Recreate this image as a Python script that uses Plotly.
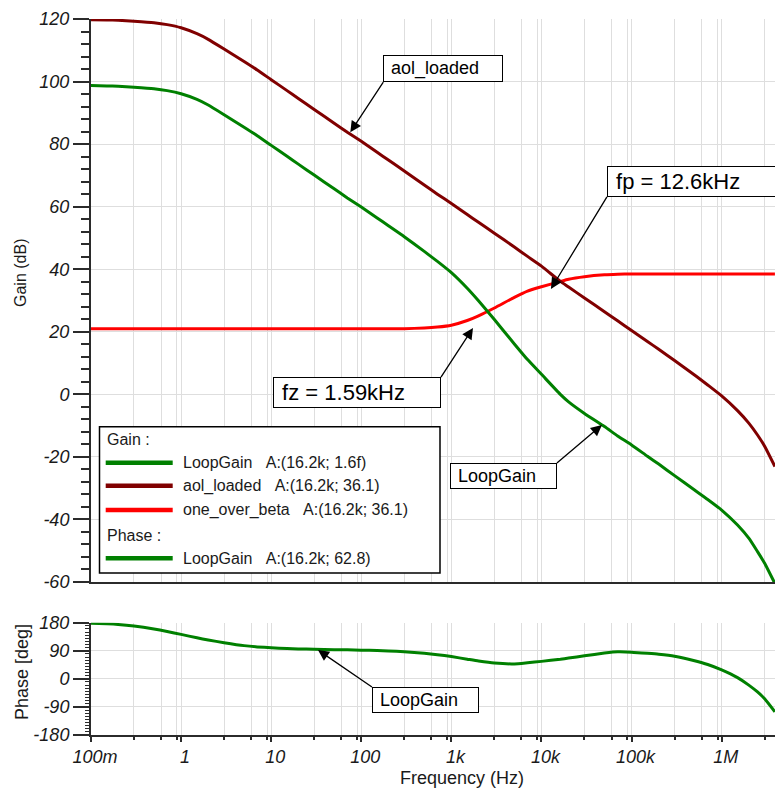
import plotly.graph_objects as go

# ---- data -------------------------------------------------------------
freq_hz = [0.1, 0.15, 0.2, 0.3, 0.5, 0.7, 1, 1.5, 2, 3, 5, 7, 10, 15, 20, 30,
           50, 70, 100, 150, 200, 300, 500, 700, 1000, 1500, 2000, 3000, 5000,
           7000, 10000, 16200, 20000, 30000, 50000, 70000, 100000, 150000,
           200000, 300000, 500000, 700000, 1000000, 1500000, 2000000,
           2500000, 3000000, 3900000]

aol_loaded_db = [119.8, 119.7, 119.6, 119.3, 118.8, 118.2, 117.2, 115.3, 113.5,
                 110.4, 106.4, 103.7, 100.6, 97.1, 94.6, 91.1, 86.7, 83.8, 80.9,
                 77.4, 74.9, 71.4, 66.9, 64.0, 61.0, 57.5, 55.0, 51.5, 47.1,
                 44.1, 41.0, 36.1, 34.3, 30.8, 26.4, 23.5, 20.4, 16.9, 14.4,
                 10.8, 6.2, 3.0, -0.5, -5.2, -9.2, -13.0, -16.6, -23.1]

one_over_beta_db = [21.0, 21.0, 21.0, 21.0, 21.0, 21.0, 21.0, 21.0, 21.0, 21.0,
                    21.0, 21.0, 21.0, 21.0, 21.0, 21.0, 21.0, 21.0, 21.0, 21.0,
                    21.0, 21.0, 21.2, 21.5, 22.1, 23.6, 25.1, 27.6, 31.0, 33.0,
                    34.4, 36.1, 36.8, 37.6, 38.2, 38.4, 38.5, 38.5, 38.5, 38.5,
                    38.5, 38.5, 38.5, 38.5, 38.5, 38.5, 38.5, 38.5]

loop_gain_db = [98.7, 98.6, 98.5, 98.2, 97.7, 97.1, 96.1, 94.3, 92.5, 89.4,
                85.4, 82.7, 79.6, 76.1, 73.6, 70.1, 65.7, 62.8, 59.9, 56.4,
                53.9, 50.4, 45.7, 42.5, 38.9, 33.9, 29.9, 23.9, 16.1, 11.1,
                6.4, 0.0, -2.4, -6.1, -10.3, -13.3, -16.2, -19.8, -22.3, -26.0,
                -30.6, -33.6, -37.0, -41.8, -46.0, -50.3, -54.0, -60.5]

loop_gain_phase_deg = [178, 176.5, 174.5, 169.5, 160, 152, 142.5, 131.5, 124.5,
                       116, 106.5, 102.5, 99.5, 97, 96, 95, 93.5, 93, 92, 91,
                       89.5, 87, 82, 77.5, 71.5, 63, 57, 50.5, 48, 51.5, 56,
                       62.8, 66.5, 74, 82.5, 86.5, 85.5, 82, 79, 72.5, 58, 46,
                       28.8, 4, -20, -42, -64, -106]

freq_ticks = [0.1, 1, 10, 100, 1e3, 1e4, 1e5, 1e6]
freq_labels = ["100m", "1", "10", "100", "1k", "10k", "100k", "1M"]
gain_ticks = [-60, -40, -20, 0, 20, 40, 60, 80, 100, 120]
gain_labels = ["-60", "-40", "-20", "0", "20", "40", "60", "80", "100", "120"]
phase_ticks = [-180, -90, 0, 90, 180]
phase_labels = ["-180", "-90", "0", "90", "180"]

legend_rows = [
    ("LoopGain\u00a0\u00a0\u00a0A:(16.2k; 1.6f)", "#008000"),
    ("aol_loaded\u00a0\u00a0\u00a0A:(16.2k; 36.1)", "#800000"),
    ("one_over_beta\u00a0\u00a0\u00a0A:(16.2k; 36.1)", "#ff0000"),
    ("LoopGain\u00a0\u00a0\u00a0A:(16.2k; 62.8)", "#008000"),
]

# ---- geometry helpers (pixel -> paper) --------------------------------
W, H = 775, 789
ML, MR, MT, MB = 91, 0, 19, 54
PW, PH = W - ML - MR, H - MT - MB


def px_x(px):
    return (px - ML) / PW


def px_y(py):
    return (H - MB - py) / PH


def italic(labels):
    return ["<i>%s</i>" % s for s in labels]


FONT = "Liberation Sans, Arial, sans-serif"
AX = "#2b2b2b"
GRID = "#dedede"

minor_freqs = [m * 10 ** d for d in range(-1, 7) for m in (3, 6, 9)]

fig = go.Figure()

line_style = dict(width=3, shape="spline", smoothing=0.5)
fig.add_trace(go.Scatter(x=freq_hz, y=one_over_beta_db, mode="lines",
                         line=dict(color="#ff0000", **line_style),
                         xaxis="x", yaxis="y", showlegend=False, name="one_over_beta"))
fig.add_trace(go.Scatter(x=freq_hz, y=aol_loaded_db, mode="lines",
                         line=dict(color="#800000", **line_style),
                         xaxis="x", yaxis="y", showlegend=False, name="aol_loaded"))
fig.add_trace(go.Scatter(x=freq_hz, y=loop_gain_db, mode="lines",
                         line=dict(color="#008000", **line_style),
                         xaxis="x", yaxis="y", showlegend=False, name="LoopGain"))
fig.add_trace(go.Scatter(x=freq_hz, y=loop_gain_phase_deg, mode="lines",
                         line=dict(color="#008000", **line_style),
                         xaxis="x2", yaxis="y2", showlegend=False, name="LoopGain phase"))

xrange_log = [-1, 6.592]
tickfont = dict(family=FONT, size=18, color="#1a1a1a")

top_dom = [px_y(582), 1]
bot_dom = [0, px_y(622.7)]

fig.update_layout(
    width=W, height=H,
    margin=dict(l=ML, r=MR, t=MT, b=MB),
    paper_bgcolor="white", plot_bgcolor="white",
    font=dict(family=FONT, color="#1a1a1a"),
    xaxis=dict(type="log", range=xrange_log, domain=[0, 1], anchor="y",
               tickmode="array", tickvals=freq_ticks, showticklabels=False, ticks="",
               showgrid=True, gridcolor=GRID, gridwidth=1,
               minor=dict(tickmode="array", tickvals=minor_freqs, showgrid=True,
                          gridcolor=GRID, gridwidth=1, ticks=""),
               showline=True, linecolor=AX, linewidth=2, zeroline=False),
    yaxis=dict(range=[-60, 120], domain=top_dom, anchor="x",
               tickmode="array", tickvals=gain_ticks, ticktext=italic(gain_labels),
               ticks="outside", ticklen=16, tickwidth=1.5, tickcolor=AX,
               tickfont=tickfont,
               minor=dict(dtick=4, tick0=0, ticks="outside", ticklen=8,
                          tickwidth=1.5, tickcolor=AX, showgrid=False),
               showgrid=True, gridcolor=GRID, gridwidth=1,
               showline=True, linecolor=AX, linewidth=2, zeroline=False),
    xaxis2=dict(type="log", range=xrange_log, domain=[0, 1], anchor="y2",
                tickmode="array", tickvals=freq_ticks, ticktext=italic(freq_labels),
                ticks="outside", ticklen=5, tickwidth=1.5, tickcolor=AX,
                tickfont=tickfont, ticklabelshift=4, ticklabelstandoff=-1,
                showgrid=True, gridcolor=GRID, gridwidth=1,
                minor=dict(tickmode="array", tickvals=minor_freqs, showgrid=True,
                           gridcolor=GRID, gridwidth=1, ticks="outside", ticklen=3,
                           tickcolor=AX),
                showline=True, linecolor=AX, linewidth=2, zeroline=False),
    yaxis2=dict(range=[-180, 180], domain=bot_dom, anchor="x2",
                tickmode="array", tickvals=phase_ticks, ticktext=italic(phase_labels),
                ticks="outside", ticklen=16, tickwidth=1.5, tickcolor=AX,
                tickfont=tickfont,
                minor=dict(dtick=10, tick0=0, ticks="outside", ticklen=4,
                           tickwidth=1, tickcolor=AX, showgrid=False),
                showgrid=True, gridcolor=GRID, gridwidth=1,
                showline=True, linecolor=AX, linewidth=2, zeroline=False),
)

annotations = []
shapes = []


def paper_text(text, px, py, size, angle=0, xanchor="center"):
    return dict(xref="paper", yref="paper", x=px_x(px), y=px_y(py),
                xanchor=xanchor, yanchor="middle", text=text, showarrow=False,
                textangle=angle, font=dict(family=FONT, size=size, color="#1a1a1a"))


# axis titles
annotations.append(paper_text("Frequency (Hz)", 462, 778, 18))
annotations.append(paper_text("Gain (dB)", 20, 273, 16, angle=-90))
annotations.append(paper_text("Phase [deg]", 22, 672, 18, angle=-90))


# call-out boxes with arrows (x in log10 units on log axes)
def callout(text, x, y, ax, ay, xanchor, yanchor, size, width, xref="x", yref="y"):
    return dict(xref=xref, yref=yref, x=x, y=y, ax=ax, ay=ay,
                text="\u00a0" + text, showarrow=True,
                arrowhead=2, arrowsize=1.7, arrowwidth=1.3, arrowcolor="black",
                xanchor=xanchor, yanchor=yanchor, align="left", width=width,
                bgcolor="white", bordercolor="black", borderwidth=1, borderpad=2,
                font=dict(family=FONT, size=size, color="black"))


annotations.append(callout("aol_loaded", 1.878, 83.8, 33, -50, "left", "bottom", 18, 114))
annotations.append(callout("fp = 12.6kHz", 4.105, 33.7, 56, -92, "left", "bottom", 22, 170))
annotations.append(callout("fz = 1.59kHz", 3.240, 21.2, -32, 49, "right", "top", 22, 162))
annotations.append(callout("LoopGain", 4.671, -9.8, -45, 38, "right", "top", 18, 101))
annotations.append(callout("LoopGain", 1.519, 92.5, 54, 37, "left", "top", 18, 101,
                           xref="x2", yref="y2"))

# legend box
shapes.append(dict(type="rect", xref="paper", yref="paper",
                   x0=px_x(99.5), x1=px_x(440), y0=px_y(573), y1=px_y(426.7),
                   line=dict(color="black", width=1.5), fillcolor="white", layer="above"))
annotations.append(paper_text("Gain :", 105, 439, 16, xanchor="left"))
annotations.append(paper_text("Phase :", 105, 535.7, 16, xanchor="left"))
row_y = [462.7, 485.7, 510, 558.3]
for (label, color), ry in zip(legend_rows, row_y):
    shapes.append(dict(type="line", xref="paper", yref="paper",
                       x0=px_x(105.7), x1=px_x(172.7), y0=px_y(ry), y1=px_y(ry),
                       line=dict(color=color, width=4.5), layer="above"))
    annotations.append(paper_text(label, 181, ry, 16, xanchor="left"))

fig.update_layout(annotations=annotations, shapes=shapes)

fig.write_html("out.html")
